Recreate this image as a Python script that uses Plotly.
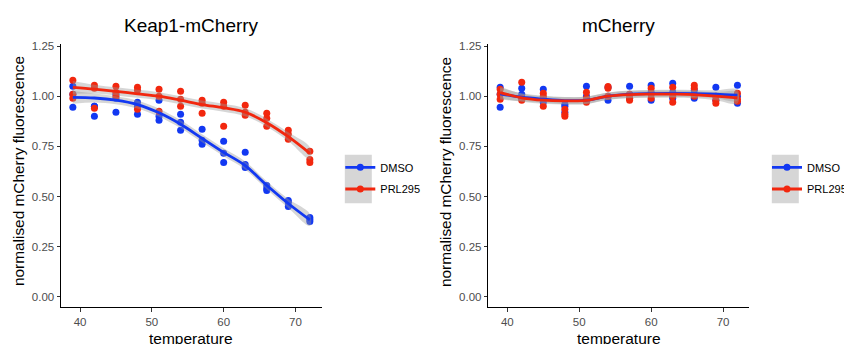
import plotly.graph_objects as go

# ---------------- data ----------------
temps = [39, 42, 45, 48, 51, 54, 57, 60, 63, 66, 69, 72]
groups = ["DMSO", "PRL295"]

# replicate values (3 per temperature), Keap1-mCherry panel
keap_dmso = [[1.05, 1.01, 0.945], [0.95, 0.95, 0.90], [1.01, 0.99, 0.92], [0.97, 0.95, 0.91],
             [0.98, 0.90, 0.88], [0.91, 0.87, 0.83], [0.835, 0.78, 0.76], [0.775, 0.715, 0.67],
             [0.72, 0.66, 0.645], [0.555, 0.54, 0.53], [0.48, 0.47, 0.45], [0.395, 0.385, 0.375]]
keap_prl = [[1.08, 1.01, 0.99], [1.055, 1.04, 0.94], [1.05, 1.02, 1.0], [1.045, 1.03, 0.935],
            [1.035, 1.0, 0.925], [1.025, 0.985, 0.95], [0.98, 0.965, 0.915], [0.97, 0.95, 0.85],
            [0.955, 0.92, 0.905], [0.915, 0.89, 0.85], [0.83, 0.81, 0.785], [0.725, 0.685, 0.67]]
# replicate values, mCherry panel
mch_dmso = [[1.045, 1.01, 0.945], [1.04, 1.01, 0.99], [1.035, 0.99, 0.97], [0.96, 0.95, 0.92],
            [1.05, 1.0, 0.975], [1.045, 1.0, 0.98], [1.05, 1.01, 0.99], [1.055, 1.02, 0.98],
            [1.065, 1.02, 0.99], [1.03, 1.01, 0.99], [1.045, 1.0, 0.98], [1.055, 1.0, 0.965]]
mch_prl = [[1.035, 1.01, 0.985], [1.07, 0.99, 0.98], [1.015, 1.0, 0.95], [0.935, 0.91, 0.9],
           [1.02, 0.99, 0.97], [1.048, 1.04, 1.0], [1.01, 0.99, 0.98], [1.04, 1.01, 0.99],
           [1.045, 1.0, 0.97], [1.055, 1.04, 1.0], [1.0, 0.98, 0.965], [1.015, 0.985, 0.975]]

keap_dmso_fit = [0.994, 0.991, 0.980, 0.958, 0.917, 0.860, 0.790, 0.720, 0.654, 0.556, 0.465, 0.383]
keap_prl_fit = [1.044, 1.035, 1.024, 1.012, 1.000, 0.980, 0.958, 0.942, 0.920, 0.868, 0.798, 0.715]
mch_dmso_fit = [1.012, 0.995, 0.985, 0.978, 0.980, 1.000, 1.010, 1.013, 1.014, 1.013, 1.010, 1.005]
mch_prl_fit = [1.018, 0.992, 0.980, 0.977, 0.979, 1.000, 1.008, 1.010, 1.010, 1.008, 1.000, 0.992]
band_keap = [0.032, 0.022, 0.020, 0.020, 0.020, 0.020, 0.020, 0.020, 0.020, 0.020, 0.022, 0.030]
band_mch = [0.030, 0.020, 0.018, 0.018, 0.018, 0.018, 0.018, 0.018, 0.018, 0.018, 0.020, 0.028]

panel_titles = ["Keap1-mCherry", "mCherry"]
x_ticks = [40, 50, 60, 70]
y_ticks = [0.00, 0.25, 0.50, 0.75, 1.00, 1.25]
x_title = "temperature"
y_title = "normalised mCherry fluorescence"

# ---------------- style ----------------
OFF = 8                      # page body margin of the html page
FW, FH = 852 - OFF, 344 - OFF


def px(X):
    return (X - OFF) / FW


def py(Y):
    return (FH - (Y - OFF)) / FH


FONT = "Liberation Sans, Arial, sans-serif"
BLUE = "#1238f2"
RED = "#f2270e"
colors = [BLUE, RED]
BAND = "rgba(153,153,153,0.4)"

# panel pixel boxes in the window (left, right, top, bottom)
panels = [(61, 321.7, 40, 307), (488.3, 749.3, 40, 307)]
legend_text_x = [379.3, 806.3]
legend_top = 152.5

fig = go.Figure()

panel_data = [
    (keap_dmso, keap_prl, keap_dmso_fit, keap_prl_fit, band_keap),
    (mch_dmso, mch_prl, mch_dmso_fit, mch_prl_fit, band_mch),
]

for p, (d_rep, p_rep, d_fit, p_fit, band) in enumerate(panel_data):
    xa = "x" if p == 0 else "x2"
    ya = "y" if p == 0 else "y2"
    leg = "legend" if p == 0 else "legend2"
    reps = [d_rep, p_rep]
    fits = [d_fit, p_fit]
    # points
    for g in range(2):
        xs, ys = [], []
        for t, vals in zip(temps, reps[g]):
            for v in vals:
                xs.append(t)
                ys.append(v)
        fig.add_trace(go.Scatter(x=xs, y=ys, mode="markers", xaxis=xa, yaxis=ya,
                                 marker=dict(color=colors[g], size=7),
                                 showlegend=False, hoverinfo="skip"))
    # bands
    for g in range(2):
        up = [f + b for f, b in zip(fits[g], band)]
        lo = [f - b for f, b in zip(fits[g], band)]
        fig.add_trace(go.Scatter(x=temps + temps[::-1], y=up + lo[::-1], fill="toself",
                                 fillcolor=BAND, line=dict(width=0, shape="spline"),
                                 mode="lines", xaxis=xa, yaxis=ya, showlegend=False,
                                 hoverinfo="skip"))
    # smooth lines
    for g in range(2):
        fig.add_trace(go.Scatter(x=temps, y=fits[g], mode="lines", xaxis=xa, yaxis=ya,
                                 line=dict(color=colors[g], width=2.8, shape="spline"),
                                 showlegend=False, hoverinfo="skip"))
    # legend entries (line + point key)
    for g in range(2):
        fig.add_trace(go.Scatter(x=[None], y=[None], mode="lines+markers", xaxis=xa, yaxis=ya,
                                 line=dict(color=colors[g], width=2.8),
                                 marker=dict(color=colors[g], size=7),
                                 name=groups[g], legend=leg, legendgroup=f"{leg}{g}",
                                 showlegend=True, hoverinfo="skip"))

axis_common = dict(showline=True, linecolor="black", linewidth=1, ticks="outside", ticklen=3.5,
                   tickwidth=1, tickcolor="#333333", showgrid=False, zeroline=False,
                   tickfont=dict(family=FONT, size=11.5, color="#4d4d4d"))

layout = dict(width=FW, height=FH, margin=dict(l=0, r=0, t=0, b=0),
              paper_bgcolor="white", plot_bgcolor="white", showlegend=True,
              font=dict(family=FONT))

shapes = []
annotations = []
for p, (l, r, t, b) in enumerate(panels):
    sfx = "" if p == 0 else "2"
    layout["xaxis" + sfx] = dict(axis_common, domain=[px(l), px(r)], range=[37.35, 73.65],
                                 tickvals=x_ticks, anchor="y" + sfx)
    layout["yaxis" + sfx] = dict(axis_common, domain=[py(b), py(t)],
                                 range=[-0.053, 1.262], tickvals=y_ticks, tickformat=".2f",
                                 anchor="x" + sfx)
    cx = (l + r) / 2
    annotations.append(dict(text=panel_titles[p], x=px(cx), y=py(21.5), xref="paper",
                            yref="paper", showarrow=False, xanchor="center", yanchor="middle",
                            font=dict(family=FONT, size=19, color="black")))
    annotations.append(dict(text=x_title, x=px(cx), y=py(338.5), xref="paper",
                            yref="paper", showarrow=False, xanchor="center", yanchor="middle",
                            font=dict(family=FONT, size=15.5, color="black")))
    ytx = 18.5 if p == 0 else 445.5
    annotations.append(dict(text=y_title, x=px(ytx), y=py(169.5), xref="paper",
                            yref="paper", showarrow=False, xanchor="center", yanchor="middle",
                            textangle=-90, font=dict(family=FONT, size=15.4, color="black")))
    tx = legend_text_x[p]
    kc = tx - 21               # centre of the legend key
    shapes.append(dict(type="rect", xref="paper", yref="paper", x0=px(kc - 13.5), x1=px(kc + 13.5),
                       y0=py(legend_top + 49), y1=py(legend_top), fillcolor="#d6d6d6",
                       line=dict(width=0), layer="below"))
    leg = "legend" if p == 0 else "legend2"
    layout[leg] = dict(x=px(tx - 39), y=py(legend_top - 2), xanchor="left", yanchor="top",
                       bgcolor="rgba(0,0,0,0)", borderwidth=0, tracegroupgap=2.7,
                       itemwidth=30, font=dict(family=FONT, size=11, color="black"))

layout["shapes"] = shapes
layout["annotations"] = annotations
fig.update_layout(**layout)

fig.write_html("out.html")
